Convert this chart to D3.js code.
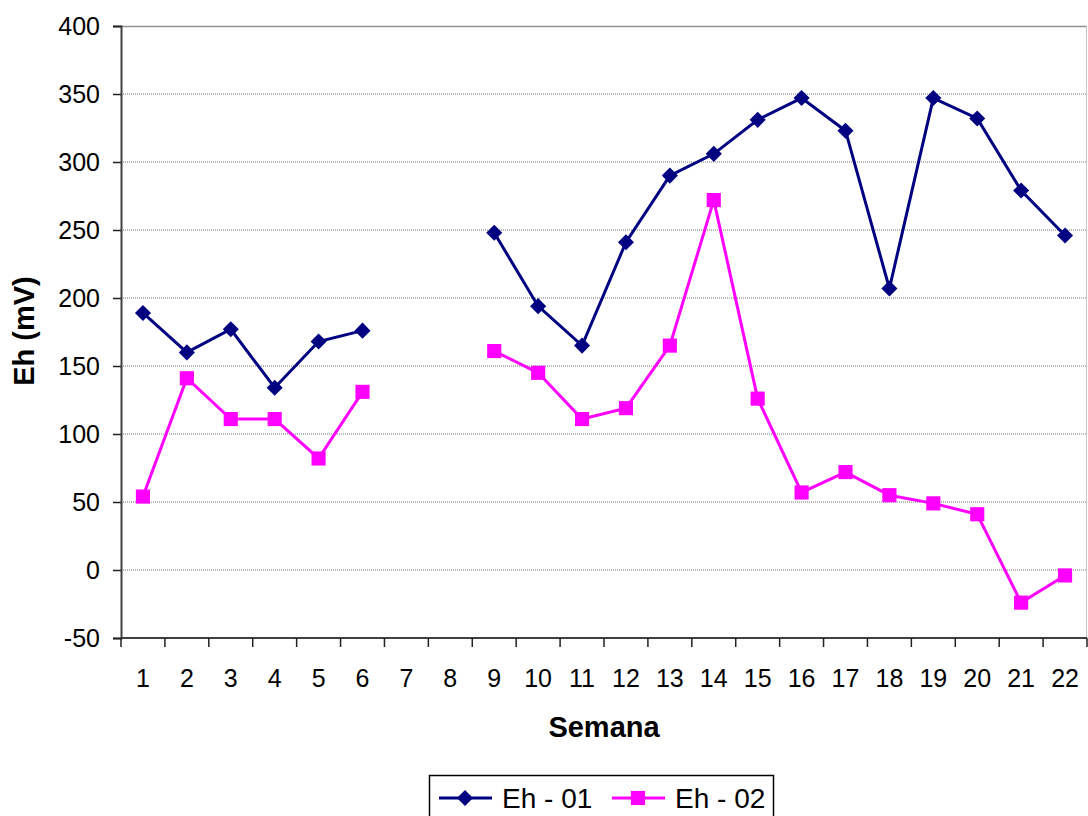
<!DOCTYPE html>
<html>
<head>
<meta charset="utf-8">
<script src="https://cdn.jsdelivr.net/npm/d3@7"></script>
<style>
  body { margin: 0; background: white; }
  svg { display: block; font-family: "Liberation Sans", Arial, sans-serif; }
</style>
</head>
<body>
<div id="chart"></div>
<script>
// Weeks on the x axis (categorical)
const semanas = ["1", "2", "3", "4", "5", "6", "7", "8", "9", "10", "11",
                 "12", "13", "14", "15", "16", "17", "18", "19", "20", "21", "22"];

// Eh readings (mV); null = no measurement
const eh01 = [189, 160, 177, 134, 168, 176, null, null, 248, 194, 165,
              241, 290, 306, 331, 347, 323, 207, 347, 332, 279, 246];
const eh02 = [54, 141, 111, 111, 82, 131, null, null, 161, 145, 111,
              119, 165, 272, 126, 57, 72, 55, 49, 41, -24, -4];

const yTicks = [-50, 0, 50, 100, 150, 200, 250, 300, 350, 400];

const seriesNames = ["Eh - 01", "Eh - 02"];
const seriesColors = ["#000080", "#ff00ff"];

const W = 1088, H = 816;
const margin = {top: 26, right: 1, bottom: 178, left: 121};
const width = W - margin.left - margin.right;
const height = H - margin.top - margin.bottom;

const svg = d3.select("#chart").append("svg")
    .attr("width", W)
    .attr("height", H);

const g = svg.append("g")
    .attr("transform", `translate(${margin.left},${margin.top})`);

const x = d3.scaleBand()
    .domain(semanas)
    .range([0, width]);

const y = d3.scaleLinear()
    .domain([-50, 400])
    .range([height, 0]);

// gridlines
g.selectAll(".grid")
  .data(yTicks.filter(d => d > -50 && d < 400))
  .enter().append("line")
    .attr("class", "grid")
    .attr("x1", 0).attr("x2", width)
    .attr("y1", d => y(d)).attr("y2", d => y(d))
    .style("stroke", "#707070")
    .style("stroke-width", 1)
    .style("stroke-dasharray", "1,1");

// plot frame (top and right in grey)
g.append("line")
    .attr("x1", 0).attr("x2", width).attr("y1", 0.5).attr("y2", 0.5)
    .style("stroke", "#909090").style("stroke-width", 1.5);
g.append("line")
    .attr("x1", width - 0.5).attr("x2", width - 0.5).attr("y1", 0).attr("y2", height)
    .style("stroke", "#c8c8c8");

// y axis
const yAxis = d3.axisLeft(y).tickValues(yTicks).tickFormat(d => String(d))
    .tickSize(8).tickPadding(13);
const yg = g.append("g").call(yAxis);
yg.attr("font-family", null);
yg.select(".domain").style("stroke", "#404040").style("stroke-width", 2);
yg.selectAll(".tick line").style("stroke", "#202020").style("stroke-width", 1.5);
yg.selectAll(".tick text").style("font-size", "25px").style("fill", "#000");

// x axis with tick marks at category boundaries
const xg = g.append("g").attr("transform", `translate(0,${height})`);
xg.append("line")
    .attr("x1", 0).attr("x2", width)
    .style("stroke", "#404040").style("stroke-width", 2);
xg.selectAll(".xtick")
  .data(semanas.concat(["end"]))
  .enter().append("line")
    .attr("x1", (d, i) => i * x.bandwidth())
    .attr("x2", (d, i) => i * x.bandwidth())
    .attr("y1", 0).attr("y2", 9)
    .style("stroke", "#202020").style("stroke-width", 1.5);
xg.selectAll(".xlabel")
  .data(semanas)
  .enter().append("text")
    .attr("x", d => x(d) + x.bandwidth() / 2)
    .attr("y", 49)
    .attr("text-anchor", "middle")
    .style("font-size", "25px")
    .text(d => d);

// axis titles
svg.append("text")
    .attr("x", 604)
    .attr("y", 737)
    .attr("text-anchor", "middle")
    .style("font-size", "29px")
    .style("font-weight", "bold")
    .text("Semana");

svg.append("text")
    .attr("transform", "translate(34,331) rotate(-90)")
    .attr("text-anchor", "middle")
    .style("font-size", "29px")
    .style("font-weight", "bold")
    .text("Eh (mV)");

// lines + markers
const line = d3.line()
    .defined(d => d != null)
    .x((d, i) => x(semanas[i]) + x.bandwidth() / 2)
    .y(d => y(d));

const diamond = d3.symbol().type(d3.symbolDiamond2).size(165);
const square = d3.symbol().type(d3.symbolSquare).size(200);

[eh01, eh02].forEach((vals, s) => {
  g.append("path")
    .datum(vals)
    .attr("d", line)
    .style("fill", "none")
    .style("stroke", seriesColors[s])
    .style("stroke-width", 3);

  g.selectAll(".m" + s)
    .data(vals.map((v, i) => ({v, i})).filter(d => d.v != null))
    .enter().append("path")
      .attr("class", "m" + s)
      .attr("transform", d => `translate(${x(semanas[d.i]) + x.bandwidth() / 2},${y(d.v)})`)
      .attr("d", s === 0 ? diamond : square)
      .style("fill", seriesColors[s]);
});

// legend
const lg = svg.append("g").attr("transform", "translate(429,775)");
lg.append("rect")
    .attr("x", 0.5).attr("y", 0.5)
    .attr("width", 344).attr("height", 48)
    .style("fill", "white")
    .style("stroke", "#000").style("stroke-width", 1.5);

const legendX = [10, 183];
seriesNames.forEach((name, s) => {
  const ly = 23;
  lg.append("line")
    .attr("x1", legendX[s]).attr("x2", legendX[s] + 53)
    .attr("y1", ly).attr("y2", ly)
    .style("stroke", seriesColors[s]).style("stroke-width", 3);
  lg.append("path")
    .attr("transform", `translate(${legendX[s] + 26},${ly})`)
    .attr("d", s === 0 ? diamond : square)
    .style("fill", seriesColors[s]);
  lg.append("text")
    .attr("x", legendX[s] + 63)
    .attr("y", ly + 10)
    .style("font-size", "28px")
    .text(name);
});
</script>
</body>
</html>
